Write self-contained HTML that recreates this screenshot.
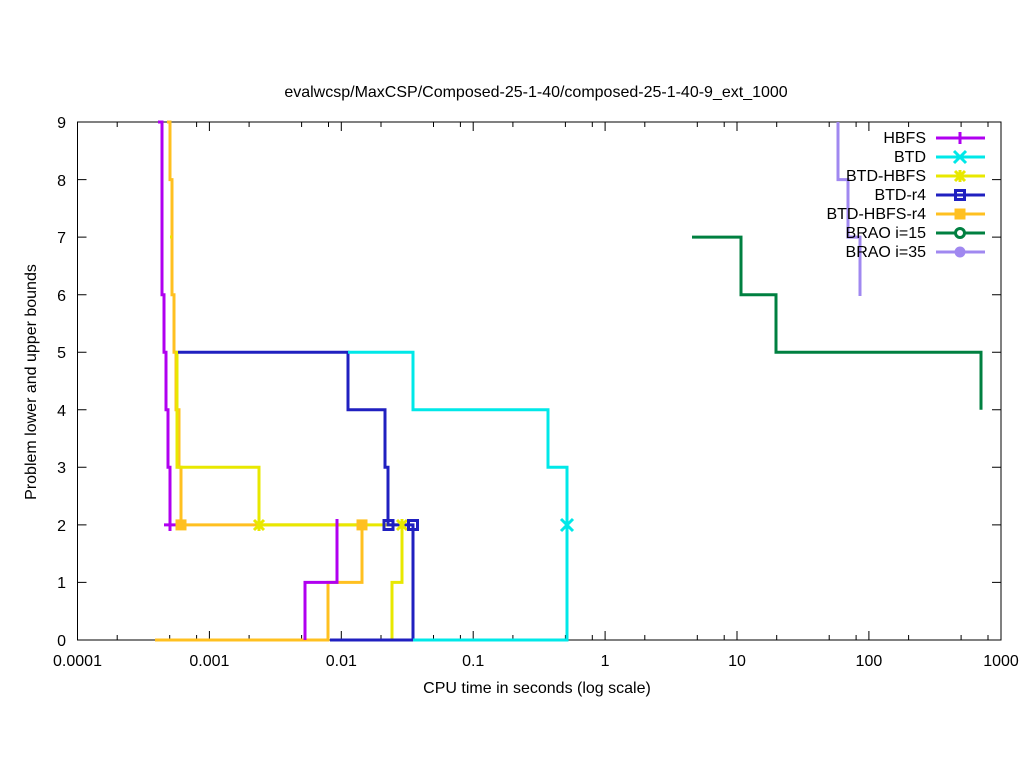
<!DOCTYPE html>
<html><head><meta charset="utf-8"><style>body{margin:0;background:#fff}svg{display:block}text{font-family:"Liberation Sans",sans-serif;font-size:16px;fill:#000}</style></head><body>
<svg width="1024" height="768" viewBox="0 0 1024 768">
<rect width="1024" height="768" fill="#fff"/>
<text x="536" y="97" text-anchor="middle">evalwcsp/MaxCSP/Composed-25-1-40/composed-25-1-40-9_ext_1000</text>
<g stroke="#000" stroke-width="1">
<path d="M77.5,122V640H1001V122Z" fill="none"/>
<path d="M77.5,640h9M77.5,582.4h9M77.5,524.9h9M77.5,467.3h9M77.5,409.8h9M77.5,352.2h9M77.5,294.7h9M77.5,237.1h9M77.5,179.6h9M77.5,122h9
M1001,582.4h-9M1001,524.9h-9M1001,467.3h-9M1001,409.8h-9M1001,352.2h-9M1001,294.7h-9M1001,237.1h-9M1001,179.6h-9"/>
<path d="M77.5,640v-9M209.4,640v-9M341.3,640v-9M473.2,640v-9M605.1,640v-9M737,640v-9M868.9,640v-9
M77.5,122v9M209.4,122v9M341.3,122v9M473.2,122v9M605.1,122v9M737,122v9M868.9,122v9"/>
<path d="M117.2,640v-5M169.7,640v-5M196.6,640v-5M249.1,640v-5M301.6,640v-5M328.5,640v-5M381,640v-5M433.5,640v-5M460.4,640v-5M512.9,640v-5M565.4,640v-5M592.3,640v-5M644.8,640v-5M697.3,640v-5M724.2,640v-5M776.7,640v-5M829.2,640v-5M856.1,640v-5M908.6,640v-5M961.1,640v-5M988,640v-5
M117.2,122v5M169.7,122v5M196.6,122v5M249.1,122v5M301.6,122v5M328.5,122v5M381,122v5M433.5,122v5M460.4,122v5M512.9,122v5M565.4,122v5M592.3,122v5M644.8,122v5M697.3,122v5M724.2,122v5M776.7,122v5M829.2,122v5M856.1,122v5M908.6,122v5M961.1,122v5M988,122v5"/>
</g>
<g text-anchor="end">
<text x="66" y="646">0</text><text x="66" y="588">1</text><text x="66" y="531">2</text><text x="66" y="473">3</text><text x="66" y="416">4</text><text x="66" y="358">5</text><text x="66" y="301">6</text><text x="66" y="243">7</text><text x="66" y="186">8</text><text x="66" y="128">9</text>
</g>
<g text-anchor="middle">
<text x="77.5" y="666">0.0001</text><text x="209.4" y="666">0.001</text><text x="341.3" y="666">0.01</text><text x="473.2" y="666">0.1</text><text x="605.1" y="666">1</text><text x="737" y="666">10</text><text x="868.9" y="666">100</text><text x="1001" y="666">1000</text>
<text x="537" y="693">CPU time in seconds (log scale)</text>
<text transform="translate(36,382) rotate(-90)">Problem lower and upper bounds</text>
</g>
<g fill="none" stroke-width="3">
<path stroke="#ffc020" d="M155,640H328V582.4H362V524.9H181V467.3H179V409.8H176V352.2H174V294.7H172V179.6H170V122H167"/>
<path stroke="#b000f0" d="M305,640V582.4H337V524.9 M170,524.9V467.3H168V409.8H166V352.2H164V294.7H162V122H158"/>
<path stroke="#e8e800" d="M392,640V582.4H402V524.9H259V467.3H181V467.3H177V352.2H175 M402,524.9H362 M170,237H172"/>
<path stroke="#2020c0" d="M330,640H413V524.9H388V467.3H385V409.8H348V352.2H178"/>
<path stroke="#00e8e8" d="M413,640H567V467.3H548V409.8H413V352.2H348"/>
<path stroke="#008040" d="M692,237.1H741V294.7H776V352.2H981V409.8"/>
<path stroke="#a088f0" d="M838,122V179.6H848V237.1H860V296"/>
</g>
<g stroke-width="3" fill="none">
<path stroke="#b000f0" d="M164,524.9h12M170,519v12M337,519v12"/>
<rect x="175.5" y="519.4" width="11" height="11" fill="#ffc020" stroke="none"/>
<rect x="356.5" y="519.4" width="11" height="11" fill="#ffc020" stroke="none"/>
<path stroke="#e8e800" d="M254,520l10,10M254,530l10,-10M259,519v12M397,520l10,10M397,530l10,-10M402,519v12"/>
<rect x="384" y="520.5" width="9" height="9" stroke="#2020c0"/>
<rect x="408.5" y="520.5" width="9" height="9" stroke="#2020c0"/>
<path stroke="#00e8e8" d="M561,519l12,12M561,531l12,-12"/>
</g>
<g text-anchor="end">
<text x="926" y="143">HBFS</text><text x="926" y="162">BTD</text><text x="926" y="181">BTD-HBFS</text><text x="926" y="200">BTD-r4</text><text x="926" y="219">BTD-HBFS-r4</text><text x="926" y="238">BRAO i=15</text><text x="926" y="257">BRAO i=35</text>
</g>
<g stroke-width="3" fill="none">
<path stroke="#b000f0" d="M936,138H985M960,132v12"/>
<path stroke="#00e8e8" d="M936,157H985M954,151l12,12M954,163l12,-12"/>
<path stroke="#e8e800" d="M936,176H985M955,171l10,10M955,181l10,-10M960,170v12"/>
<path stroke="#2020c0" d="M936,195H985"/><rect x="955.5" y="190.5" width="9" height="9" stroke="#2020c0" fill="#fff"/><path stroke="#2020c0" d="M956,195h8"/>
<path stroke="#ffc020" d="M936,214H985"/><rect x="954.5" y="208.5" width="11" height="11" fill="#ffc020"/>
<path stroke="#008040" d="M936,233H985"/><circle cx="960" cy="233" r="4.5" stroke="#008040" fill="#fff"/>
<path stroke="#a088f0" d="M936,252H985"/><circle cx="960" cy="252" r="5.5" fill="#a088f0" stroke="none"/>
</g>
</svg>
</body></html>
